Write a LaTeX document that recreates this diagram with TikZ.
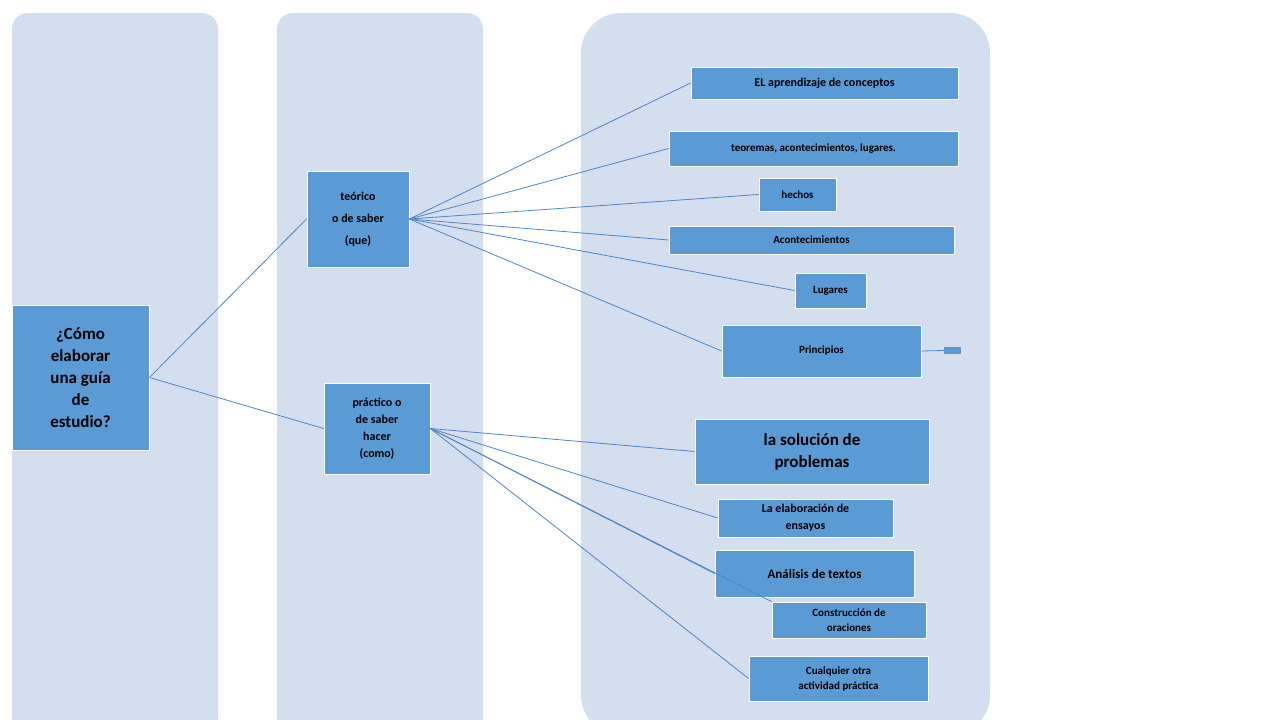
\documentclass[tikz,border=0pt]{standalone}
\usepackage{fontspec}
\setmainfont{Carlito}
\begin{document}
\begin{tikzpicture}[x=1pt,y=-1pt,
 col/.style={fill=bgc,draw=none,rounded corners=16pt},
 bx/.style={fill=nodec,draw=white,line width=0.8pt,font=\bfseries\fontsize{12}{14}\selectfont,align=center,inner sep=0pt},
 ln/.style={draw=linec,line width=0.8pt}]
\definecolor{bgc}{HTML}{D3DEEF}
\definecolor{nodec}{HTML}{5B9BD5}
\definecolor{linec}{HTML}{4F86C6}
\useasboundingbox (0,0) rectangle (1280,720);
\fill[col] (12,13) rectangle (218,735);
\fill[col] (277,13) rectangle (483,735);
\fill[col,rounded corners=40pt] (581,13) rectangle (990,735);
\newcommand\bxat[4]{}% unused
\node[bx,minimum width=137pt,minimum height=145pt,font=\bfseries\fontsize{17}{22}\selectfont] (q) at (80.5,377.5) {¿Cómo\\elaborar\\una guía\\de\\estudio?};
\node[bx,minimum width=102pt,minimum height=96pt,font=\bfseries\fontsize{12}{22}\selectfont] (teo) at (358,219) {teórico\\o de saber\\(que)};
\node[bx,minimum width=106pt,minimum height=91pt,font=\bfseries\fontsize{12}{17}\selectfont] (pra) at (377,428.5) {práctico o\\de saber\\hacer\\(como)};
\node[bx,minimum width=267pt,minimum height=32pt] (a1) at (824.5,83) {EL aprendizaje de conceptos};
\node[bx,minimum width=289pt,minimum height=35pt,font=\bfseries\fontsize{11}{13}\selectfont] (a2) at (813.5,148.5) {teoremas, acontecimientos, lugares.};
\node[bx,minimum width=77pt,minimum height=33pt,font=\bfseries\fontsize{11}{13}\selectfont] (a3) at (797.5,194.5) {hechos};
\node[bx,minimum width=285pt,minimum height=28pt,font=\bfseries\fontsize{11}{13}\selectfont] (a4) at (811.5,240) {Acontecimientos};
\node[bx,minimum width=71pt,minimum height=35pt,font=\bfseries\fontsize{11}{13}\selectfont] (a5) at (830.5,290.5) {Lugares};
\node[bx,minimum width=199pt,minimum height=52pt,font=\bfseries\fontsize{11}{13}\selectfont] (a6) at (821.5,351) {Principios};
\node[fill=nodec,minimum width=17pt,minimum height=7pt,inner sep=0pt] (a7) at (952.5,350.5) {};
\node[bx,minimum width=234pt,minimum height=65pt,font=\bfseries\fontsize{17}{22}\selectfont] (b1) at (812,451.5) {la solución de\\problemas};
\node[bx,minimum width=175pt,minimum height=38pt,font=\bfseries\fontsize{12}{17}\selectfont] (b2) at (805.5,518) {La elaboración de\\ensayos};
\node[bx,minimum width=199pt,minimum height=47pt,font=\bfseries\fontsize{13}{16}\selectfont] (b3) at (814.5,573.5) {Análisis de textos};
\node[bx,minimum width=154pt,minimum height=36pt,font=\bfseries\fontsize{11}{15}\selectfont] (b4) at (849,620) {Construcción de\\oraciones};
\node[bx,minimum width=179pt,minimum height=45pt,font=\bfseries\fontsize{11}{15}\selectfont] (b5) at (838.5,678.5) {Cualquier otra\\actividad práctica};
\draw[ln] (q.east) -- (teo.west);
\draw[ln] (q.east) -- (pra.west);
\foreach \n in {a1,a2,a3,a4,a5,a6} \draw[ln] (teo.east) -- (\n.west);
\foreach \n in {b1,b2,b3,b5} \draw[ln] (pra.east) -- (\n.west);
\draw[ln] (pra.east) -- (b4.north west);
\draw[ln] (a6.east) -- (a7.west);
\end{tikzpicture}
\end{document}
